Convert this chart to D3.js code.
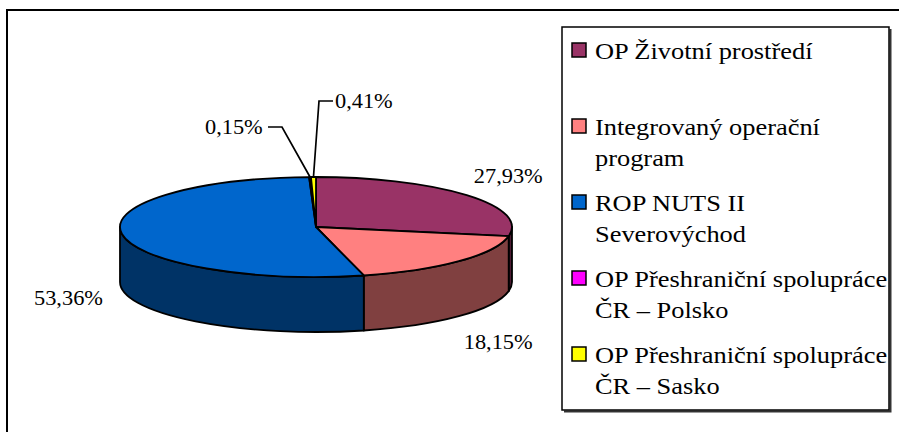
<!DOCTYPE html>
<html>
<head>
<meta charset="utf-8">
<script src="https://cdn.jsdelivr.net/npm/d3@7"></script>
</head>
<body style="margin:0;background:#fff">
<svg id="chart" width="899" height="432"></svg>
<script>
// data
var categories = ["OP Životní prostředí", "Integrovaný operační program", "ROP NUTS II Severovýchod",
                  "OP Přeshraniční spolupráce ČR – Polsko", "OP Přeshraniční spolupráce ČR – Sasko"]
var legendLines = [["OP Životní prostředí"], ["Integrovaný operační", "program"], ["ROP NUTS II", "Severovýchod"],
                   ["OP Přeshraniční spolupráce", "ČR – Polsko"], ["OP Přeshraniční spolupráce", "ČR – Sasko"]]
var values = [27.93, 18.15, 53.36, 0.15, 0.41]
var labels = ["27,93%", "18,15%", "53,36%", "0,15%", "0,41%"]
var colors = ["#993366", "#FF8080", "#0066CC", "#FF00FF", "#FFFF00"]

var FONT = "Liberation Serif"
var svg = d3.select("#chart")

// outer frame
svg.append("rect").attr("x", 7).attr("y", 10).attr("width", 910).attr("height", 440)
  .attr("fill", "none").attr("stroke", "#000").attr("stroke-width", 2)

var cx = 316, cy = 227, rx = 196, ry = 50, depth = 55

var pie = d3.pie().sort(null).value(function(d){ return d })
var arcs = pie(values)

function pt(a, dy) { return [cx + rx * Math.sin(a), cy - ry * Math.cos(a) + (dy || 0)] }
function darker(c) { var r = d3.rgb(c); return d3.rgb(r.r * 0.5, r.g * 0.5, r.b * 0.5).toString() }

var g = svg.append("g")

// side walls (front half only)
arcs.forEach(function(d, i){
  var a = Math.max(d.startAngle, Math.PI / 2), b = Math.min(d.endAngle, Math.PI * 1.5)
  if (b <= a) return
  var p1 = pt(a), p2 = pt(b), p3 = pt(b, depth), p4 = pt(a, depth)
  var large = (b - a) > Math.PI ? 1 : 0
  var path = "M" + p1 + "A" + rx + "," + ry + " 0 " + large + " 1 " + p2 +
             "L" + p3 + "A" + rx + "," + ry + " 0 " + large + " 0 " + p4 + "Z"
  g.append("path").attr("d", path).attr("fill", darker(colors[i]))
    .attr("stroke", "#000").attr("stroke-width", 1.8).attr("stroke-linejoin", "round")
})

// top faces
arcs.forEach(function(d, i){
  var p1 = pt(d.startAngle), p2 = pt(d.endAngle)
  var large = (d.endAngle - d.startAngle) > Math.PI ? 1 : 0
  var path = "M" + cx + "," + cy + "L" + p1 + "A" + rx + "," + ry + " 0 " + large + " 1 " + p2 + "Z"
  g.append("path").attr("d", path).attr("fill", colors[i])
    .attr("stroke", "#000").attr("stroke-width", 1.8).attr("stroke-linejoin", "round")
})

function label(x, y, txt, anchor) {
  return svg.append("text").attr("transform", "translate(" + x + "," + y + ") scale(1.04,1)")
    .attr("font-family", FONT).attr("font-size", 21.5).attr("fill", "#000")
    .attr("text-anchor", anchor || "start").text(txt)
}

// data labels
var lrx = 250, lry = 82
arcs.forEach(function(d, i){
  var m = (d.startAngle + d.endAngle) / 2
  if (values[i] > 5) {
    var x = cx + lrx * Math.sin(m), y = cy - lry * Math.cos(m) + (Math.cos(m) < 0 ? depth + 3 : 0)
    label(x, y + 8, labels[i], "middle")
  }
})

// small slices with leader lines
var small = [{i: 3, tx: 205, ty: 134, lx: [268, 282]}, {i: 4, tx: 335, ty: 108, lx: [333, 319]}]
small.forEach(function(s){
  var d = arcs[s.i], m = (d.startAngle + d.endAngle) / 2
  var e = pt(m)
  var yLine = s.ty - 7
  svg.append("path")
    .attr("d", "M" + s.lx[0] + "," + yLine + "L" + s.lx[1] + "," + yLine + "L" + e)
    .attr("fill", "none").attr("stroke", "#000").attr("stroke-width", 1.7)
  label(s.tx, s.ty, labels[s.i])
})

// legend
var lx = 562, ly = 27, lw = 327, lh = 383
svg.append("path").attr("d", "M" + (lx + lw + 1.5) + "," + (ly + 2) + "V" + (ly + lh + 1.5) + "H" + (lx + 2))
  .attr("fill", "none").attr("stroke", "#333").attr("stroke-width", 2)
svg.append("rect").attr("x", lx).attr("y", ly).attr("width", lw).attr("height", lh)
  .attr("fill", "#fff").attr("stroke", "#000").attr("stroke-width", 1.5)

var items = svg.append("g").selectAll("g").data(categories).enter().append("g")
  .attr("transform", function(d, i){ return "translate(" + (lx + 10) + "," + (ly + 16 + i * 76) + ")" })
items.append("rect").attr("width", 14).attr("height", 14)
  .attr("fill", function(d, i){ return colors[i] }).attr("stroke", "#000").attr("stroke-width", 1.5)
items.each(function(d, i){
  var t = d3.select(this).append("text").attr("transform", "translate(23,16) scale(1.1,1)")
    .attr("font-family", FONT).attr("font-size", 24).attr("fill", "#000")
  legendLines[i].forEach(function(line, k){
    t.append("tspan").attr("x", 0).attr("dy", k ? 31 : 0).text(line)
  })
})
</script>
</body>
</html>
